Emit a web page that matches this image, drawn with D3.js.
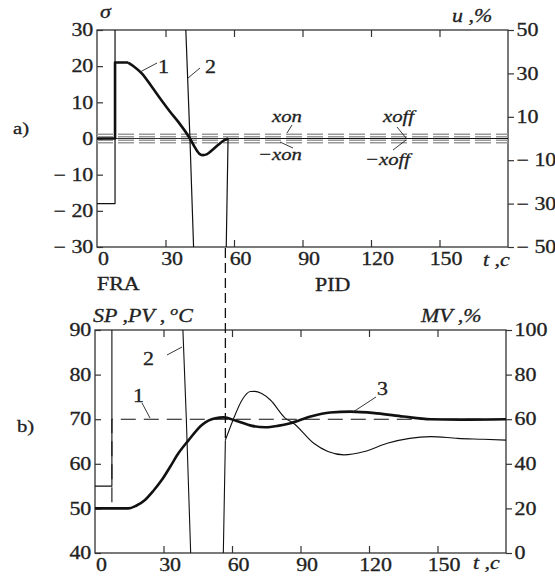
<!DOCTYPE html>
<html>
<head>
<meta charset="utf-8">
<script src="https://cdnjs.cloudflare.com/ajax/libs/d3/7.8.5/d3.min.js"></script>
<style>
body { margin: 0; background: #fff; }
text { font-family: "Liberation Serif", "Times New Roman", serif; fill: #222; stroke: #222; stroke-width: 0.3; }
</style>
</head>
<body>
<script>
// a) relay mode error sigma and control u
var tSigma = [0, 7.9, 7.9, 13.6, 16, 19.6, 24, 28.3, 32, 35.6, 40.7, 43, 45, 46.5, 48, 50.5, 53, 56, 57.4];
var sigma  = [0, 0, 21, 21, 20, 18, 14.3, 10.5, 7.4, 4.6, 0, -2.6, -4.3, -4.6, -4.4, -3.2, -1.8, -0.4, 0];
var tU = [0, 7.9, 7.9, 38.6, 38.9, 40.7, 42.3, 42.5, 56.4, 56.6, 57.4, 180];
var u  = [-30, -30, 120, 120, 50, 0, -50, -120, -120, -50, 0, 0];
var xonLevels = [1.2, 0.5, -0.5, -1.2];
var sigmaTicks = [30, 20, 10, 0, -10, -20, -30];
var uTicks = [50, 30, 10, -10, -30, -50];

// b) SP, PV (deg C) and MV (%)
var tSP = [0, 7.4, 7.4, 180];
var sp  = [50, 50, 70, 70];
var tPV = [0, 14.6, 18, 21.9, 25.5, 29.3, 33, 36.6, 41, 46.8, 52.7, 56.3, 61.5, 68.8, 74.6, 80, 85.6, 94.4, 103, 112, 123.7, 135, 147, 160, 180];
var pv  = [50, 50, 50.6, 51.9, 53.9, 56.4, 59.4, 62.4, 65.3, 68.7, 70.2, 70.4, 69.7, 68.5, 68.2, 68.5, 69.1, 70.6, 71.5, 71.7, 71.3, 70.6, 70.0, 69.9, 70];
var tMV = [0, 7.4, 7.4, 38.3, 38.5, 40, 41.9, 42.1, 56.0, 56.2, 57.1, 60.6, 64.4, 68, 70, 73, 76.8, 83.4, 86.9, 95.8, 102, 109, 118, 128, 147, 158.8, 170, 180];
var mv  = [30, 30, 130, 130, 100, 60, 0, -30, -30, 0, 50.6, 60, 68.6, 72.4, 72.5, 71.5, 68.6, 60.4, 58.2, 49.2, 45.5, 44, 45.5, 49.2, 52.2, 51.4, 51, 50.6];
var pvTicks = [90, 80, 70, 60, 50, 40];
var mvTicks = [100, 80, 60, 40, 20, 0];

var tTicks = [0, 30, 60, 90, 120, 150];
var tInner = [30, 60, 90, 120, 150];

var W = 555, H = 578, SX = 1.22;
var svg = d3.select("body").append("svg").attr("width", W).attr("height", H);

var x1 = d3.scaleLinear().domain([0, 180]).range([97, 508]);
var y1 = d3.scaleLinear().domain([-30, 30]).range([247, 30]);
var u1 = d3.scaleLinear().domain([-50, 50]).range([247, 30]);
var x2 = d3.scaleLinear().domain([0, 180]).range([95, 506]);
var y2 = d3.scaleLinear().domain([40, 90]).range([553, 330]);
var m2 = d3.scaleLinear().domain([0, 100]).range([553, 330]);

function fmt(d) { return d < 0 ? "\u2212 " + (-d) : "" + d; }

function label(x, y, txt, italic, size) {
  return svg.append("text")
    .attr("transform", "translate(" + x + "," + y + ") scale(" + SX + ",1)")
    .attr("font-size", size || 18)
    .attr("font-style", italic ? "italic" : "normal")
    .text(txt);
}
function leader(a, b, c, d) {
  svg.append("line").attr("x1", a).attr("y1", b).attr("x2", c).attr("y2", d)
    .attr("stroke", "#222").attr("stroke-width", 0.9);
}

function panel(id, x, yL, yR, ticksL, ticksR) {
  var x0 = x.range()[0], x1r = x.range()[1], yb = yL.range()[0], yt = yL.range()[1];
  svg.append("clipPath").attr("id", id).append("rect")
    .attr("x", x0).attr("y", yt).attr("width", x1r - x0).attr("height", yb - yt);

  var gl = svg.append("g").attr("transform", "translate(" + x0 + ",0)")
    .call(d3.axisLeft(yL).tickValues(ticksL).tickSize(-6).tickPadding(3).tickFormat(fmt));
  var gr = svg.append("g").attr("transform", "translate(" + x1r + ",0)")
    .call(d3.axisRight(yR).tickValues(ticksR).tickSize(6).tickPadding(1).tickFormat(fmt));
  var gb = svg.append("g").attr("transform", "translate(0," + yb + ")")
    .call(d3.axisBottom(x).tickValues(tTicks).tickSize(0).tickPadding(5).tickFormat(fmt));
  var gbi = svg.append("g").attr("transform", "translate(0," + yb + ")")
    .call(d3.axisBottom(x).tickValues(tInner).tickSize(-7).tickFormat(""));
  var gti = svg.append("g").attr("transform", "translate(0," + yt + ")")
    .call(d3.axisTop(x).tickValues(tInner).tickSize(-7).tickFormat(""));
  [gl, gr, gb, gbi, gti].forEach(function (g) {
    g.select(".domain").remove();
    g.selectAll("line").attr("stroke", "#333").attr("stroke-width", 1.2);
    g.selectAll("text").attr("font-size", 18).attr("fill", "#222")
      .attr("font-family", "Liberation Serif, serif")
      .attr("transform", "scale(" + SX + ",1)");
  });
  gb.selectAll("text").attr("dx", 5);

  svg.append("rect").attr("x", x0).attr("y", yt).attr("width", x1r - x0).attr("height", yb - yt)
    .attr("fill", "none").attr("stroke", "#333").attr("stroke-width", 1.3);
}

// draws points [from, to] of a series; smooth parts use a monotone curve
function path(id, x, y, ts, vs, w, from, to, smooth, dash) {
  var line = d3.line().x(function (d) { return x(d[0]); }).y(function (d) { return y(d[1]); })
    .curve(smooth ? d3.curveMonotoneX : d3.curveLinear);
  var pts = d3.zip(ts, vs).slice(from, to + 1);
  var p = svg.append("path").datum(pts)
    .attr("clip-path", "url(#" + id + ")")
    .attr("d", line).attr("fill", "none").attr("stroke", "#111")
    .attr("stroke-width", w).attr("stroke-linejoin", "round");
  if (dash) p.attr("stroke-dasharray", dash);
  return p;
}

// ---- panel a
panel("ca", x1, y1, u1, sigmaTicks, uTicks);
xonLevels.forEach(function (v) {
  svg.append("line").attr("x1", x1(0)).attr("x2", x1(180)).attr("y1", y1(v)).attr("y2", y1(v))
    .attr("stroke", "#999").attr("stroke-width", 1.5).attr("stroke-dasharray", "16,5");
});
svg.append("line").attr("x1", x1(0)).attr("x2", x1(180)).attr("y1", y1(0)).attr("y2", y1(0))
  .attr("stroke", "#333").attr("stroke-width", 1);
path("ca", x1, u1, tU, u, 1.2, 0, tU.length - 1, false);
path("ca", x1, y1, tSigma, sigma, 2.6, 0, 3, false);
path("ca", x1, y1, tSigma, sigma, 2.6, 3, tSigma.length - 1, true);

label(100, 18, "\u03c3", true);
label(452, 22, "u ,%", true);
label(483, 266, "t ,c", true);
label(13, 134, "a)", false, 17);
label(97, 290, "FRA");
label(315, 291, "PID");
label(158, 73, "1"); leader(140, 72, 157, 63);
label(205, 73, "2"); leader(188, 78, 200, 68);
label(272, 122, "xon", true, 17); leader(292, 125, 287, 133);
label(258, 160, "\u2212xon", true, 17); leader(280, 142, 293, 148);
label(383, 122, "xoff", true, 17); leader(397, 127, 406, 138);
label(365, 165, "\u2212xoff", true, 17); leader(393, 150, 406, 140);

// ---- panel b
panel("cb", x2, y2, m2, pvTicks, mvTicks);
path("cb", x2, y2, tSP, sp, 1.1, 0, tSP.length - 1, false, "15,8");
path("cb", x2, m2, tMV, mv, 1.1, 0, 10, false);
path("cb", x2, m2, tMV, mv, 1.1, 10, tMV.length - 1, true);
path("cb", x2, y2, tPV, pv, 2.6, 0, tPV.length - 1, true);

// switch moment FRA -> PID
svg.append("line").attr("x1", x2(57.1)).attr("x2", x2(57.1)).attr("y1", y1(-30) + 1).attr("y2", y2(65.3))
  .attr("stroke", "#111").attr("stroke-width", 1.3).attr("stroke-dasharray", "10,5");

var ax = label(93, 322, "SP ,PV ,", true);
ax.append("tspan").attr("font-size", 13).attr("dx", 4).attr("dy", -7).text("o");
ax.append("tspan").attr("dy", 7).text("C");
label(421, 322, "MV ,%", true);
label(473, 569, "t ,c", true);
label(17, 432, "b)", false, 17);
label(143, 365, "2"); leader(167, 355, 182, 347);
label(133, 402, "1"); leader(142, 403, 150, 418);
label(377, 395, "3"); leader(353, 412, 376, 397);
</script>
</body>
</html>
